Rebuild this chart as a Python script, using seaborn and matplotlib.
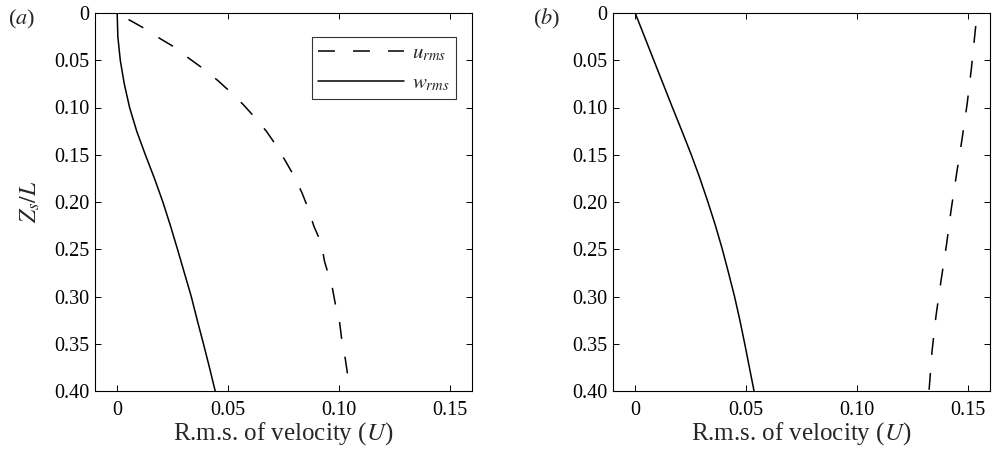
import numpy as np
import pandas as pd
import matplotlib
matplotlib.use("Agg")
import matplotlib.pyplot as plt
import seaborn as sns

# ---- data ----
z_wa = [0.0, 0.025, 0.05, 0.075, 0.10, 0.125, 0.15, 0.175, 0.20, 0.225, 0.25,
        0.275, 0.30, 0.325, 0.35, 0.375, 0.40]
w_a = [0.0, 0.0003, 0.0014, 0.0032, 0.0056, 0.0088, 0.0127, 0.0168, 0.0206, 0.0240,
       0.0272, 0.0303, 0.0334, 0.0361, 0.0389, 0.0416, 0.0442]
z_ua = [0.0, 0.0074, 0.0163, 0.0270, 0.0365, 0.0482, 0.0589, 0.0713, 0.0830, 0.0968,
        0.1103, 0.1252, 0.1404, 0.1571, 0.1724, 0.1901, 0.2061, 0.2256, 0.2433,
        0.2628, 0.2905, 0.3096, 0.3274, 0.3461, 0.3650, 0.3841, 0.40]
u_a = [0.0, 0.0055, 0.0123, 0.0193, 0.0261, 0.0325, 0.0388, 0.0453, 0.0508, 0.0568,
       0.0620, 0.0673, 0.0718, 0.0760, 0.0797, 0.0833, 0.0860, 0.0887, 0.0920,
       0.0935, 0.0970, 0.0985, 0.1003, 0.1013, 0.1028, 0.1040, 0.1047]

z_wb = [0.0, 0.025, 0.05, 0.075, 0.10, 0.125, 0.15, 0.175, 0.20, 0.225, 0.25,
        0.275, 0.30, 0.325, 0.35, 0.375, 0.40]
w_b = [0.0, 0.0042, 0.0084, 0.0126, 0.0168, 0.0211, 0.0253, 0.0292, 0.0328, 0.0362,
       0.0393, 0.0421, 0.0448, 0.0472, 0.0494, 0.0515, 0.0536]
z_ub = [0.0, 0.0173, 0.0589, 0.0961, 0.1333, 0.1706, 0.2078, 0.245, 0.282, 0.3196, 0.357, 0.40]
u_b = [0.1543, 0.1534, 0.1516, 0.1497, 0.1474, 0.1449, 0.1425, 0.1404, 0.1380, 0.1357, 0.1339, 0.1325]

x_ticks = [0, 0.05, 0.10, 0.15]
x_ticklabels = ["0", "0.05", "0.10", "0.15"]
y_ticks = [0, 0.05, 0.10, 0.15, 0.20, 0.25, 0.30, 0.35, 0.40]
y_ticklabels = ["0", "0.05", "0.10", "0.15", "0.20", "0.25", "0.30", "0.35", "0.40"]
panel_labels = ["($a$)", "($b$)"]
legend_labels = ["$u_{rms}$", "$w_{rms}$"]
xlabel = "R.m.s. of velocity ($U$)"
ylabel = "$Z_s/L$"

sns.set_style("ticks")
plt.rcParams["font.family"] = ["Liberation Serif", "DejaVu Serif"]
plt.rcParams["mathtext.fontset"] = "stix"
plt.rcParams["lines.scale_dashes"] = False
plt.rcParams["xtick.direction"] = "in"
plt.rcParams["ytick.direction"] = "in"

DASH = (15.8, (12.2, 13.0))

fig = plt.figure(figsize=(9.92, 4.55), dpi=100)
ax_a = fig.add_axes([95 / 992, 1 - 391 / 455, 377 / 992, 378 / 455])
ax_b = fig.add_axes([613 / 992, 1 - 391 / 455, 377 / 992, 378 / 455])

panels = [
    (ax_a, z_ua, u_a, z_wa, w_a),
    (ax_b, z_ub, u_b, z_wb, w_b),
]

for i, (ax, zu, u, zw, w) in enumerate(panels):
    sns.lineplot(x=u, y=zu, orient="y", estimator=None, color="k", lw=1.1,
                 linestyle=DASH, label=legend_labels[0], ax=ax, legend=False)
    sns.lineplot(x=w, y=zw, orient="y", estimator=None, color="k", lw=1.1,
                 label=legend_labels[1], ax=ax, legend=False)
    ax.set_xlim(-0.01, 0.16)
    ax.set_ylim(0.40, 0.0)
    ax.set_xticks(x_ticks)
    ax.set_xticklabels(x_ticklabels)
    ax.set_yticks(y_ticks)
    ax.set_yticklabels(y_ticklabels)
    ax.tick_params(axis="both", which="both", direction="in", length=4, width=0.7,
                   top=True, right=True, labelsize=14.5, colors="k")
    ax.tick_params(axis="x", pad=7)
    ax.tick_params(axis="y", pad=4)
    for sp in ax.spines.values():
        sp.set_visible(True)
        sp.set_color("k")
        sp.set_linewidth(0.8)
    ax.set_xlabel(xlabel, fontsize=18, labelpad=0)
    if i == 0:
        ax.set_ylabel(ylabel, fontsize=17, labelpad=9)
    else:
        ax.set_ylabel("")

leg = ax_a.legend(loc="upper right", bbox_to_anchor=(0.9576, 0.9365), borderaxespad=0,
                  frameon=True, fancybox=False, edgecolor="k", fontsize=15,
                  handlelength=4.1, handletextpad=0.4, labelspacing=0.5,
                  borderpad=0.3)
leg.get_frame().set_linewidth(0.8)
leg.get_lines()[0].set_linestyle((0, (12.2, 13.0)))

fig.text(22 / 992, 1 - 19 / 455, panel_labels[0], fontsize=16, ha="center", va="center")
fig.text(547 / 992, 1 - 19 / 455, panel_labels[1], fontsize=16, ha="center", va="center")

fig.savefig("out.png", dpi=100)
